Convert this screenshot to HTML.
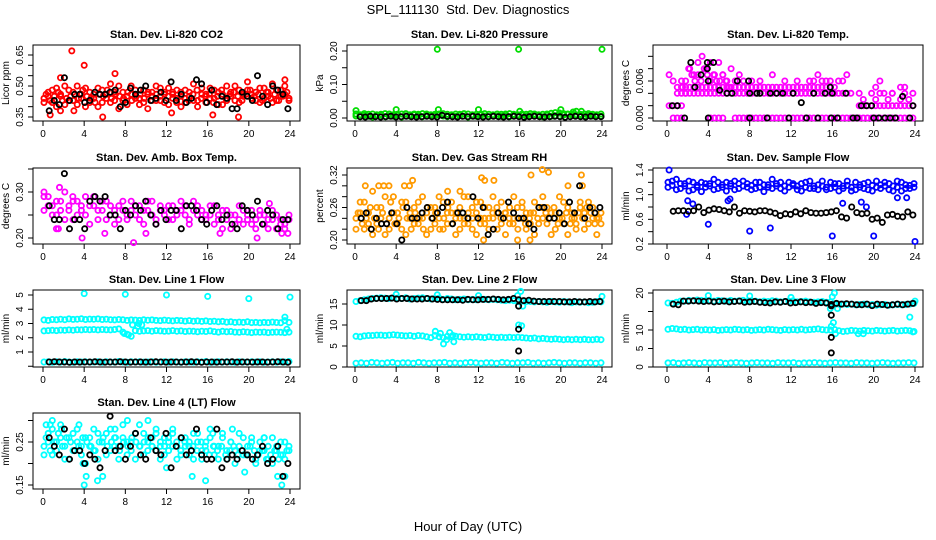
<!DOCTYPE html>
<html><head><meta charset="utf-8">
<style>
html,body{margin:0;padding:0;background:#fff;}
svg{display:block;font-family:"Liberation Sans",Arial,sans-serif;}
</style></head>
<body>
<svg id="c" width="936" height="540" viewBox="0 0 936 540">
<text x="468" y="14" text-anchor="middle" font-size="13">SPL_111130&#160; Std. Dev. Diagnostics</text>
<text x="468" y="531" text-anchor="middle" font-size="13">Hour of Day (UTC)</text>
</svg>
<script>
// ---------- data ----------
const xTicks=[0,4,8,12,16,20,24];
const N=null;
const co2A=[0.44,0.47,0.42,0.49,0.45,0.41,0.48,0.43,0.50,0.46,0.40,0.47,0.44,0.49,0.42,0.46,0.51,0.43,0.39,0.47,0.45,0.50,0.44,0.41,0.48,0.46,0.43,0.50,0.45,0.42,0.49,0.47,0.44,0.40,0.48,0.45,0.51,0.43,0.46,0.42,0.49,0.44,0.47,0.41,0.50,0.45,0.43,0.48,0.46,0.52,0.44,0.47,0.42,0.49,0.45,0.51,0.43,0.48,0.46,0.44];
const co2B=[0.42,0.45,0.48,0.40,0.46,0.50,0.43,0.47,0.41,0.44,0.49,0.42,0.46,0.40,0.48,0.44,0.42,0.47,0.50,0.43,0.41,0.46,0.48,0.44,0.42,0.39,0.47,0.43,0.49,0.46,0.41,0.44,0.48,0.45,0.42,0.47,0.43,0.40,0.49,0.46,0.44,0.48,0.41,0.46,0.43,0.47,0.50,0.42,0.45,0.48,0.46,0.43,0.49,0.44,0.47,0.42,0.48,0.45,0.50,0.43];
const co2C=[0.46,0.43,0.45,0.47,0.43,0.44,0.45,0.46,0.44,0.48,0.45,0.44,0.42,0.46,0.45,0.48,0.44,0.46,0.45,0.44,0.47,0.43,0.45,0.46,0.44,0.47,0.45,0.46,0.43,0.47,0.45,0.46,0.42,0.47,0.44,0.43,0.46,0.48,0.44,0.45,0.46,0.42,0.45,0.48,0.44,0.46,0.47,0.45,0.43,0.46,0.48,0.45,0.46,0.43,0.47,0.44,0.46,0.43,0.45,0.47];
const co2OutX=[2.8,4,1.7,7,5.8,0.7,19,16.5,12.5,23.5,1.7,3.0];
const co2OutY=[0.67,0.60,0.54,0.56,0.35,0.36,0.35,0.36,0.37,0.53,0.38,0.38];
const co2K=[0.38,0.43,0.41,0.54,0.43,0.46,0.46,0.42,0.43,0.47,0.46,0.46,0.47,0.48,0.40,0.42,0.49,0.46,0.48,0.50,0.43,0.44,0.47,0.43,0.52,0.43,0.46,0.42,0.44,0.53,0.51,0.42,0.48,0.41,0.45,0.44,0.39,0.39,0.47,0.45,0.43,0.55,0.45,0.41,0.50,0.48,0.46,0.39];

const prA=[0.006,0.004,0.008,0.005,0.003,0.007,0.009,0.004,0.006,0.005,0.008,0.003,0.007,0.005,0.010,0.006,0.004,0.008,0.005,0.007,0.009,0.006,0.004,0.007,0.005,0.008,0.006,0.003,0.007,0.005,0.009,0.006,0.004,0.008,0.006,0.005,0.007,0.004,0.008,0.006,0.010,0.005,0.007,0.009,0.006,0.004,0.008,0.005,0.007,0.006,0.009,0.012,0.008,0.006,0.007,0.005,0.008,0.006,0.007,0.005];
const prB=[0.012,0.010,0.013,0.011,0.012,0.010,0.011,0.013,0.012,0.010,0.011,0.012,0.013,0.010,0.012,0.011,0.013,0.012,0.010,0.011,0.012,0.013,0.011,0.010,0.012,0.011,0.013,0.012,0.010,0.011,0.012,0.013,0.011,0.010,0.012,0.011,0.012,0.013,0.011,0.010,0.012,0.011,0.013,0.012,0.010,0.011,0.012,0.014,0.016,0.015,0.013,0.011,0.012,0.010,0.011,0.012,0.013,0.011,0.010,0.012];
const prOutX=[0.1,4,8.1,8,12,16,15.9,20,21.5,22,24,21.2];
const prOutY=[0.022,0.025,0.025,0.205,0.025,0.02,0.205,0.025,0.02,0.02,0.205,0.018];
const prK=[0.004,0.003,0.005,0.004,0.003,0.004,0.005,0.003,0.004,0.005,0.004,0.003,0.004,0.005,0.004,0.003,0.008,0.005,0.004,0.003,0.005,0.004,0.005,0.004,0.003,0.004,0.005,0.004,0.003,0.004,0.005,0.004,0.002,0.004,0.005,0.004,0.003,0.004,0.005,0.004,0.002,0.004,0.005,0.004,0.003,0.005,0.004,0.004];

const tZero=[N,0,0,0,N,N,N,N,N,N,0,0,0,0,N,N,0,0,0,0,0,0,0,0,0,0,0,0,0,0,0,0,0,0,0,0,0,0,0,0,0,0,0,0,0,0,0,0,0,0,0,0,0,0,0,0,0,0,0,0];
const tTwo=[0.002,0.002,0.002,0.002,N,N,N,N,N,N,N,N,N,N,N,N,N,N,N,N,N,N,N,N,N,N,N,N,N,N,N,N,N,N,N,N,N,N,N,N,N,N,N,N,N,N,0.002,0.002,0.002,0.002,0.002,0.002,0.002,0.002,0.002,0.002,0.002,0.002,0.002,0.002];
const tFour=[N,N,0.004,0.004,0.004,0.004,0.004,0.004,0.004,0.004,0.004,0.004,0.004,0.004,0.004,0.004,0.004,0.004,0.004,0.004,0.004,0.004,0.004,0.004,0.004,0.004,0.004,0.004,0.004,0.004,0.004,0.004,0.004,0.004,0.004,0.004,0.004,0.004,0.004,0.004,0.004,0.004,0.004,0.004,0.004,N,0.004,0.003,N,0.004,0.003,0.004,N,0.003,0.004,N,0.003,0.004,0.003,N];
const tFive=[N,N,N,0.005,0.005,0.005,0.005,0.005,0.005,0.005,0.005,0.005,0.005,0.005,0.005,0.005,0.005,0.005,0.005,0.005,0.005,0.005,0.005,0.005,0.005,0.005,0.005,0.005,0.005,0.005,0.005,0.005,0.005,0.005,0.005,0.005,0.005,0.005,0.005,0.005,0.005,N,N,N,N,N,N,N,N,N,N,N,N,N,N,N,N,N,N,N];
const tHigh=[0.007,0.006,0.005,0.006,0.004,0.008,0.007,0.009,0.010,0.008,0.009,0.007,0.009,0.007,0.006,0.008,0.006,0.007,0.006,N,0.006,N,0.006,N,N,0.007,N,N,0.006,N,N,0.006,N,N,0.006,0.006,0.007,0.006,0.006,0.006,N,0.006,0.006,0.007,N,N,N,N,N,N,0.005,0.006,0.004,N,0.004,N,0.005,0.005,N,0.004];
const tHigh2=[0.005,0.006,0.008,0.007,0.006,0.007,0.006,0.008,0.007,0.006,0.007,0.006,0.006,0.007,0.006,0.005];
const tKX=[0.5,1.0,1.7,2.3,2.7,3.3,3.9,3.9,4.0,4.0,4.5,5.1,5.8,6.3,6.8,7.9,8.0,8.0,8.7,9.0,9.7,10.0,10.6,11.2,11.8,12.2,13.0,13.5,14.2,14.6,15.3,15.8,15.9,16.0,16.5,17.3,18.0,18.4,18.8,19.3,19.8,20.0,20.5,21.1,21.6,22.1,22.8,23.5,23.8];
const tKY=[0.002,0.002,0,0.009,0.005,0.007,0.009,0.008,0.006,0,0.009,0.0045,0.004,0.004,0.006,0.006,0.004,0,0.004,0.004,0,0.004,0.004,0.004,0,0.004,0.0025,0,0.004,0,0.004,0.005,0,0.004,0,0.004,0,0,0.002,0.002,0.002,0,0,0,0,0,0.0035,0,0.002];

const ambA=[0.29,0.27,0.25,0.28,0.26,0.30,0.27,0.24,0.28,0.26,0.25,0.27,0.29,0.24,0.26,0.28,0.25,0.23,0.27,0.26,0.24,0.28,0.25,0.27,0.23,0.26,0.28,0.24,0.26,0.25,0.27,0.24,0.26,0.28,0.25,0.23,0.26,0.27,0.24,0.25,0.27,0.23,0.25,0.26,0.24,0.22,0.25,0.27,0.23,0.24,0.26,0.22,0.25,0.23,0.24,0.26,0.22,0.24,0.23,0.25];
const ambB=[0.26,0.29,0.27,0.25,0.28,0.24,0.26,0.28,0.25,0.27,0.29,0.23,0.27,0.26,0.28,0.24,0.27,0.26,0.24,0.28,0.25,0.26,0.27,0.24,0.26,0.28,0.25,0.23,0.27,0.26,0.24,0.27,0.25,0.26,0.27,0.24,0.28,0.25,0.26,0.24,0.25,0.27,0.24,0.22,0.26,0.25,0.23,0.24,0.26,0.25,0.23,0.24,0.26,0.25,0.22,0.24,0.25,0.23,0.22,0.24];
const ambOutX=[1.6,2.9,5,3.8,8.8,6,10,1.3,20.8,22,23.2,23.8,17.2,0.1,1.5];
const ambOutY=[0.31,0.29,0.29,0.20,0.19,0.21,0.21,0.22,0.20,0.275,0.21,0.21,0.21,0.30,0.22];
const ambK=[0.27,0.24,0.24,0.34,0.22,0.24,0.24,0.22,0.28,0.29,0.28,0.29,0.25,0.25,0.22,0.26,0.25,0.27,0.26,0.28,0.25,0.23,0.26,0.24,0.26,0.26,0.22,0.27,0.27,0.26,0.24,0.23,0.26,0.27,0.24,0.25,0.23,0.22,0.27,0.26,0.25,0.28,0.23,0.26,0.25,0.22,0.24,0.24];

const rhA=[0.24,0.27,0.22,0.25,0.29,0.23,0.26,0.21,0.24,0.28,0.25,0.22,0.27,0.24,0.26,0.23,0.28,0.25,0.22,0.26,0.24,0.27,0.23,0.25,0.21,0.26,0.24,0.28,0.22,0.25,0.27,0.23,0.26,0.24,0.22,0.27,0.25,0.23,0.28,0.24,0.26,0.22,0.25,0.27,0.23,0.24,0.26,0.21,0.25,0.28,0.23,0.26,0.24,0.22,0.27,0.25,0.23,0.26,0.24,0.25];
const rhB=[0.22,0.25,0.27,0.23,0.21,0.26,0.24,0.28,0.22,0.25,0.23,0.27,0.21,0.25,0.23,0.27,0.24,0.21,0.26,0.23,0.28,0.22,0.25,0.27,0.24,0.22,0.28,0.23,0.26,0.21,0.24,0.26,0.22,0.28,0.25,0.23,0.21,0.26,0.24,0.22,0.27,0.25,0.23,0.21,0.26,0.28,0.23,0.25,0.22,0.24,0.27,0.21,0.25,0.23,0.26,0.22,0.27,0.24,0.21,0.23];
const rhC=[0.25,0.23,0.24,0.26,0.24,0.22,0.25,0.23,0.27,0.23,0.24,0.26,0.24,0.22,0.25,0.24,0.22,0.26,0.24,0.25,0.22,0.24,0.26,0.23,0.25,0.24,0.23,0.25,0.24,0.27,0.23,0.24,0.24,0.25,0.26,0.24,0.25,0.24,0.23,0.26,0.24,0.23,0.24,0.25,0.24,0.26,0.25,0.24,0.26,0.23,0.24,0.25,0.23,0.24,0.25,0.24,0.26,0.25,0.23,0.24];
const rhOutX=[1,2.3,2.8,3.3,4.8,5.3,5.6,9,10.2,12.3,12.6,13.5,17.1,18.2,18.8,22,22.1,20.7,12.5,15.8,17,1.6];
const rhOutY=[0.30,0.30,0.30,0.30,0.30,0.30,0.31,0.29,0.29,0.315,0.31,0.31,0.32,0.33,0.325,0.32,0.30,0.30,0.20,0.20,0.20,0.22];
const rhK=[0.24,0.25,0.22,0.24,0.23,0.23,0.25,0.23,0.20,0.26,0.24,0.24,0.25,0.26,0.24,0.25,0.26,0.27,0.23,0.25,0.25,0.24,0.28,0.24,0.26,0.21,0.22,0.25,0.24,0.27,0.25,0.24,0.24,0.23,0.22,0.26,0.26,0.24,0.24,0.25,0.23,0.27,0.25,0.30,0.24,0.26,0.25,0.26];

const flA=[1.20,1.15,1.25,1.10,1.18,1.22,1.08,1.15,1.20,1.12,1.18,1.25,1.10,1.16,1.20,1.14,1.08,1.18,1.22,1.12,1.15,1.10,1.20,1.16,1.12,1.25,1.18,1.10,1.14,1.20,1.15,1.08,1.18,1.12,1.22,1.10,1.16,1.14,1.08,1.20,1.12,1.18,1.10,1.15,1.06,1.20,1.12,1.18,1.08,1.15,1.22,1.10,1.14,1.18,1.06,1.12,1.20,1.10,1.15,1.12];
const flB=[1.12,1.22,1.08,1.18,1.14,1.06,1.20,1.12,1.05,1.18,1.14,1.08,1.20,1.12,1.06,1.18,1.22,1.10,1.14,1.18,1.08,1.20,1.12,1.05,1.16,1.10,1.14,1.20,1.06,1.12,1.18,1.14,1.06,1.20,1.10,1.14,1.08,1.22,1.12,1.10,1.18,1.06,1.14,1.22,1.12,1.08,1.16,1.10,1.20,1.06,1.12,1.16,1.20,1.08,1.14,1.22,1.06,1.16,1.10,1.18];
const flOutX=[0.2,1.9,4,8,10,16,20,24,2,5.9,17,18.8,19.3,22.3,23.2,2.5,6.1];
const flOutY=[1.4,0.68,0.52,0.41,0.46,0.33,0.33,0.24,0.9,0.9,0.86,0.88,0.8,0.95,0.95,0.85,0.93];
const flK=[0.73,0.74,0.74,0.73,0.74,0.80,0.71,0.75,0.77,0.76,0.74,0.72,0.80,0.70,0.74,0.73,0.72,0.74,0.74,0.72,0.70,0.66,0.69,0.68,0.72,0.69,0.74,0.71,0.70,0.70,0.71,0.72,0.74,0.64,0.62,0.80,0.71,0.69,0.70,0.60,0.62,0.55,0.67,0.68,0.65,0.64,0.72,0.67];

const l1A=[3.25,3.22,3.28,3.26,3.30,3.27,3.32,3.29,3.30,3.33,3.28,3.31,3.30,3.32,3.28,3.30,3.27,3.25,3.28,3.26,3.22,3.25,3.24,3.22,3.26,3.23,3.25,3.22,3.20,3.24,3.21,3.18,3.22,3.20,3.17,3.20,3.16,3.18,3.15,3.18,3.14,3.16,3.12,3.15,3.10,3.12,3.08,3.10,3.08,3.12,3.06,3.08,3.05,3.08,3.06,3.10,3.07,3.05,3.20,3.08];
const l1B=[2.48,2.50,2.52,2.50,2.54,2.52,2.55,2.53,2.56,2.55,2.58,2.56,2.58,2.55,2.58,2.56,2.55,2.58,2.62,2.40,2.25,2.10,2.50,2.45,2.48,2.50,2.46,2.50,2.48,2.45,2.47,2.50,2.46,2.48,2.44,2.47,2.45,2.42,2.46,2.44,2.48,2.43,2.40,2.45,2.42,2.44,2.40,2.38,2.42,2.40,2.36,2.40,2.38,2.40,2.36,2.38,2.40,2.38,2.36,2.40];
const l1C=[0.30,0.32,0.28,0.31,0.29,0.33,0.30,0.28,0.32,0.30,0.31,0.29,0.30,0.32,0.28,0.31,0.30,0.29,0.33,0.30,0.28,0.31,0.30,0.32,0.29,0.30,0.31,0.28,0.30,0.32,0.29,0.31,0.30,0.28,0.32,0.30,0.29,0.31,0.30,0.33,0.28,0.30,0.31,0.29,0.32,0.30,0.28,0.31,0.30,0.29,0.32,0.30,0.31,0.28,0.30,0.32,0.29,0.31,0.30,0.33];
const l1OutX=[4,8,12,16,20,24,8.7,9.2,9.6,9.3,23.5,23.7,7.9,8.3];
const l1OutY=[5.1,5.05,5.0,4.9,4.75,4.85,2.9,2.8,2.9,3.0,3.45,2.6,2.3,2.2];
const l1K=[0.30,0.32,0.30,0.30,0.28,0.30,0.29,0.30,0.30,0.31,0.30,0.29,0.30,0.30,0.31,0.30,0.29,0.30,0.30,0.29,0.30,0.31,0.30,0.29,0.30,0.30,0.29,0.30,0.31,0.30,0.28,0.30,0.30,0.29,0.30,0.30,0.31,0.29,0.30,0.30,0.29,0.30,0.30,0.29,0.30,0.31,0.30,0.28];

const l2A=[15.6,15.8,16.0,16.2,16.3,16.4,16.5,16.4,16.3,16.5,16.4,16.3,16.5,16.2,16.3,16.4,16.5,16.3,16.2,16.3,16.4,16.1,16.3,16.2,16.0,16.1,16.2,16.0,16.1,16.0,16.2,16.1,16.0,16.1,16.0,15.9,15.8,15.9,15.8,15.6,15.7,15.6,15.6,15.5,15.6,15.5,15.4,15.6,15.5,15.4,15.6,15.5,15.3,15.5,15.4,15.5,15.3,15.4,15.6,15.5];
const l2B=[7.3,7.2,7.4,7.5,7.5,7.6,7.6,7.5,7.6,7.7,7.6,7.5,7.4,7.5,7.3,7.5,7.4,7.2,7.0,7.5,7.2,7.0,7.3,7.2,7.3,7.2,7.1,7.2,7.1,7.2,7.1,7.0,7.2,7.1,7.0,7.1,7.0,7.1,7.0,7.1,7.0,6.9,6.8,6.9,6.7,6.8,6.7,6.6,6.7,6.6,6.5,6.6,6.5,6.6,6.5,6.6,6.5,6.5,6.6,6.5];
const l2C=[0.9,1.0,0.9,1.1,1.0,0.9,1.0,1.1,0.9,1.0,1.0,0.9,1.1,1.0,0.9,1.0,1.0,1.1,0.9,1.0,0.9,1.0,1.1,1.0,0.9,1.0,1.0,0.9,1.1,1.0,0.9,1.0,1.0,1.1,0.9,1.0,0.9,1.0,1.1,1.0,0.9,1.0,1.0,0.9,1.0,1.0,0.9,1.0];
const l2OutX=[4,8,12,16.1,16.3,15.8,24,16.2,15.9,7.8,8.3,8.6,9.2,9.6,8.9,9.5];
const l2OutY=[17.3,17.2,17.0,18.0,14.5,17.0,16.8,9.8,10,8.5,8.0,5.5,8.2,6.0,6.5,7.5];
const l2K=[15.8,15.8,16.2,16.3,16.3,16.3,16.4,16.2,16.3,16.3,16.2,16.2,16.2,16.3,16.2,16.1,16.0,16.0,16.0,16.0,15.9,16.1,16.0,16.0,16.1,16.1,16.2,16.1,16.0,16.1,16.3,16.0,15.8,15.9,15.7,15.6,15.6,15.6,15.6,15.6,15.5,15.5,15.6,15.5,15.5,15.6,15.5,15.6];
const l2KOutX=[15.9,15.9,15.9];
const l2KOutY=[9.0,3.8,14.5];

const l3A=[17.3,17.2,17.5,17.8,17.8,18.0,17.9,18.1,18.0,17.9,18.0,17.8,18.0,17.9,17.8,18.0,17.8,17.9,18.0,17.7,17.9,17.8,17.6,17.8,17.7,17.9,17.8,17.6,17.7,17.8,17.9,17.6,17.7,17.8,17.6,17.5,17.6,17.7,17.5,17.6,16.9,17.0,17.0,16.9,17.0,16.8,16.9,17.0,16.8,16.9,16.7,16.8,16.9,16.7,16.8,16.9,16.8,16.9,17.0,17.2];
const l3B=[10.2,10.4,10.3,10.1,10.2,10.0,10.1,10.2,10.0,10.1,10.0,10.1,9.9,10.0,10.1,10.0,10.2,10.1,10.0,10.1,9.9,10.0,10.1,10.0,10.2,10.1,10.0,9.9,10.1,10.0,10.1,10.0,10.2,10.0,10.1,10.2,10.3,10.1,10.0,10.0,10.1,9.8,9.6,9.7,9.9,9.8,9.7,9.9,9.8,9.7,9.9,9.8,9.7,9.8,9.9,9.7,9.8,9.9,9.8,9.6];
const l3C=[1.1,1.2,1.0,1.1,1.2,1.1,1.0,1.2,1.1,1.1,1.2,1.0,1.1,1.2,1.1,1.0,1.1,1.2,1.1,1.1,1.0,1.2,1.1,1.1,1.2,1.0,1.1,1.1,1.2,1.1,1.0,1.1,1.2,1.1,1.1,1.0,1.2,1.1,1.1,1.0,1.1,1.2,1.1,1.0,1.1,1.1,1.2,1.1];
const l3OutX=[4,8,12,16.2,16.5,15.8,16,16.1,15.9,16.3,18.5,19,24,23.5,23.8];
const l3OutY=[19.3,19.2,18.8,20,15.8,15.8,19,12,11,9,9,9,17.8,13.5,9.5];
const l3K=[17.0,16.8,17.8,17.8,17.9,17.8,17.7,17.8,17.6,17.7,17.8,17.6,17.7,17.8,17.5,17.6,17.7,17.5,17.4,17.3,17.6,17.5,17.7,17.3,17.4,17.6,17.4,17.5,17.2,17.4,17.3,16.9,17.2,17.0,17.1,17.0,16.8,16.8,17.0,16.6,17.0,16.9,16.7,16.8,17.0,16.8,17.0,17.2];
const l3KOutX=[15.9,15.9,15.9,15.9];
const l3KOutY=[8,3.8,14,16.5];

const l4A=[0.24,0.27,0.22,0.25,0.29,0.21,0.26,0.23,0.28,0.24,0.20,0.26,0.23,0.27,0.25,0.22,0.28,0.24,0.21,0.26,0.25,0.23,0.27,0.29,0.22,0.25,0.24,0.27,0.21,0.26,0.23,0.28,0.24,0.22,0.26,0.25,0.21,0.27,0.23,0.25,0.28,0.22,0.24,0.26,0.21,0.25,0.23,0.27,0.22,0.24,0.26,0.20,0.25,0.23,0.21,0.26,0.24,0.22,0.25,0.23];
const l4B=[0.22,0.25,0.28,0.23,0.26,0.24,0.21,0.27,0.25,0.22,0.26,0.24,0.28,0.21,0.25,0.27,0.23,0.26,0.24,0.29,0.22,0.25,0.21,0.24,0.27,0.23,0.26,0.28,0.24,0.22,0.25,0.27,0.21,0.26,0.24,0.22,0.27,0.25,0.21,0.23,0.26,0.24,0.21,0.27,0.23,0.25,0.20,0.24,0.26,0.22,0.25,0.21,0.23,0.26,0.24,0.20,0.23,0.25,0.21,0.24];
const l4C=[0.26,0.23,0.25,0.27,0.24,0.26,0.25,0.23,0.24,0.26,0.25,0.24,0.23,0.25,0.26,0.24,0.25,0.26,0.23,0.25,0.24,0.26,0.25,0.24,0.25,0.26,0.24,0.23,0.25,0.24,0.26,0.24,0.25,0.23,0.25,0.24,0.24,0.23,0.25,0.24,0.22,0.24,0.23,0.24,0.22,0.23,0.24,0.22,0.23,0.22,0.24,0.23,0.22,0.23,0.21,0.22,0.23,0.21,0.22,0.23];
const l4OutX=[0.3,0.7,0.9,1.8,3.5,4,4.2,5.3,5.8,7,8.2,10.2,14.5,15.8,16.5,18.4,19.6,21.5,22.8,23.2,23.5,3.9,12];
const l4OutY=[0.29,0.29,0.30,0.28,0.29,0.15,0.17,0.16,0.17,0.28,0.30,0.30,0.17,0.16,0.27,0.28,0.18,0.26,0.17,0.15,0.17,0.20,0.19];
const l4K=[0.26,0.24,0.22,0.28,0.21,0.23,0.23,0.20,0.22,0.21,0.19,0.23,0.31,0.23,0.24,0.21,0.24,0.27,0.22,0.21,0.26,0.23,0.22,0.27,0.19,0.24,0.26,0.22,0.23,0.28,0.22,0.21,0.21,0.28,0.19,0.21,0.22,0.21,0.23,0.22,0.21,0.22,0.24,0.20,0.21,0.24,0.17,0.20];

// ---------- drawing ----------
const svg=document.getElementById('c');
const NS='http://www.w3.org/2000/svg';
function mk(tag,attrs,parent){const e=document.createElementNS(NS,tag);for(const k in attrs)e.setAttribute(k,attrs[k]);(parent||svg).appendChild(e);return e;}

const cols=[{L:33,R:300,x0:43,x24:290},{L:347,R:612,x0:355,x24:602},{L:653,R:923,x0:667,x24:915}];
const rows=[{T:45,B:121},{T:168,B:244},{T:290,B:367},{T:413,B:489}];

function makePanel(name,title,ylab,c,r,v1,p1,v2,p2,yt,ytl){
  const col=cols[c],row=rows[r];
  const g=mk('g',{});
  
  
  const sx=h=>col.x0+(h/24)*(col.x24-col.x0);
  const sy=v=>p1+(v-v1)*(p2-p1)/(v2-v1);
  const t=mk('text',{x:(col.L+col.R)/2,y:row.T-7,'text-anchor':'middle','font-size':'11','font-weight':'bold'},g);
  t.textContent=title;
  
  
  const box=mk('rect',{x:col.L,y:row.T,width:col.R-col.L,height:row.B-row.T,fill:'none',stroke:'#000','stroke-width':1},g);
  
  
  mk('line',{x1:sx(xTicks[0]),x2:sx(xTicks[xTicks.length-1]),y1:row.B,y2:row.B,stroke:'#000'},g);
  xTicks.forEach(h=>{
    mk('line',{x1:sx(h),x2:sx(h),y1:row.B,y2:row.B+5,stroke:'#000'},g);
    const tl=mk('text',{x:sx(h),y:row.B+16,'text-anchor':'middle','font-size':'10'},g);
    tl.textContent=String(h);
    
    
  });
  yt.forEach((v,i)=>{
    const y=sy(v);
    mk('line',{x1:col.L,x2:col.L-5,y1:y,y2:y,stroke:'#000'},g);
    if(ytl[i]){
      const tl=mk('text',{x:col.L-10,y:y,'text-anchor':'middle','font-size':'10',transform:`rotate(-90 ${col.L-10} ${y})`},g);
      tl.textContent=ytl[i];
      
      
    }
  });
  const yl=mk('text',{x:col.L-24,y:(row.T+row.B)/2,'text-anchor':'middle','font-size':'10',transform:`rotate(-90 ${col.L-24} ${(row.T+row.B)/2})`},g);
  yl.textContent=ylab;
  
  
  return {g,sx,sy};
}
function pt(p,x,y,color,name){
  const e=mk('circle',{cx:p.sx(x).toFixed(1),cy:p.sy(y).toFixed(1),r:2.6,fill:'none',stroke:color,'stroke-width':1.8},p.g);
  
  
}
function series(p,vals,color,name,a,b){
  const x0=(a===undefined)?0.1:a, x1=(b===undefined)?23.9:b;
  vals.forEach((v,i)=>{ if(v===null)return; pt(p,x0+(x1-x0)*i/(vals.length-1),v,color,name); });
}
function seriesXY(p,xs,ys,color,name){
  const n=Math.min(xs.length,ys.length);
  for(let i=0;i<n;i++)pt(p,xs[i],ys[i],color,name);
}
const RED='#ff0000',GRN='#00dd00',MAG='#ff00ff',ORG='#ff9a00',BLU='#0000ff',CYN='#00ffff',BLK='#000';

let p=makePanel('panel-co2','Stan. Dev. Li-820 CO2','Licor ppm',0,0,0.35,117,0.65,55,[0.35,0.40,0.45,0.50,0.55,0.60,0.65],['0.35','','','0.50','','','0.65']);
series(p,co2A,RED,'co2-point');series(p,co2B,RED,'co2-point');series(p,co2C,RED,'co2-point',0.3,23.7);seriesXY(p,co2OutX,co2OutY,RED,'co2-point');
series(p,co2K,BLK,'co2-hourly-point',0.6,23.8);

p=makePanel('panel-pressure','Stan. Dev. Li-820 Pressure','kPa',1,0,0,118,0.20,51,[0,0.05,0.10,0.15,0.20],['0.00','','0.10','','0.20']);
series(p,prA,GRN,'pressure-point');series(p,prB,GRN,'pressure-point');seriesXY(p,prOutX,prOutY,GRN,'pressure-point');
series(p,prK,BLK,'pressure-hourly-point',0.5,23.9);

p=makePanel('panel-li820-temp','Stan. Dev. Li-820 Temp.','degrees C',2,0,0,118,0.006,81,[0,0.002,0.004,0.006,0.008,0.010],['0.000','','','0.006','','']);
series(p,tZero,MAG,'temp-point',0.2,23.8);series(p,tTwo,MAG,'temp-point',0.2,23.8);series(p,tFour,MAG,'temp-point',0.2,23.8);series(p,tFive,MAG,'temp-point',0.2,23.8);series(p,tHigh,MAG,'temp-point',0.2,23.8);series(p,tHigh2,MAG,'temp-point',1.5,6.0);
seriesXY(p,tKX,tKY,BLK,'temp-hourly-point');

p=makePanel('panel-amb-box-temp','Stan. Dev. Amb. Box Temp.','degrees C',0,1,0.20,238,0.30,192,[0.20,0.25,0.30,0.35],['0.20','','0.30','']);
series(p,ambA,MAG,'amb-temp-point');series(p,ambB,MAG,'amb-temp-point');seriesXY(p,ambOutX,ambOutY,MAG,'amb-temp-point');
series(p,ambK,BLK,'amb-temp-hourly-point',0.6,23.8);

p=makePanel('panel-gas-stream-rh','Stan. Dev. Gas Stream RH','percent',1,1,0.20,240,0.32,175,[0.20,0.22,0.24,0.26,0.28,0.30,0.32],['0.20','','','0.26','','','0.32']);
series(p,rhA,ORG,'rh-point');series(p,rhB,ORG,'rh-point');series(p,rhC,ORG,'rh-point',0.3,23.7);seriesXY(p,rhOutX,rhOutY,ORG,'rh-point');
series(p,rhK,BLK,'rh-hourly-point',0.6,23.8);

p=makePanel('panel-sample-flow','Stan. Dev. Sample Flow','ml/min',2,1,0.2,244,1.4,170,[0.2,0.4,0.6,0.8,1.0,1.2,1.4],['0.2','','0.6','','1.0','','1.4']);
series(p,flA,BLU,'sample-flow-point');series(p,flB,BLU,'sample-flow-point');seriesXY(p,flOutX,flOutY,BLU,'sample-flow-point');
series(p,flK,BLK,'sample-flow-hourly-point',0.6,23.8);

p=makePanel('panel-line1-flow','Stan. Dev. Line 1 Flow','ml/min',0,2,1,352,5,295,[0,1,2,3,4,5],['','1','2','3','4','5']);
series(p,l1A,CYN,'line1-point');series(p,l1B,CYN,'line1-point');series(p,l1C,CYN,'line1-point');seriesXY(p,l1OutX,l1OutY,CYN,'line1-point');
series(p,l1K,BLK,'line1-hourly-point',0.6,23.8);

p=makePanel('panel-line2-flow','Stan. Dev. Line 2 Flow','ml/min',1,2,0,367,15,304,[0,5,10,15],['0','5','10','15']);
series(p,l2A,CYN,'line2-point');series(p,l2B,CYN,'line2-point');series(p,l2C,CYN,'line2-point');seriesXY(p,l2OutX,l2OutY,CYN,'line2-point');
series(p,l2K,BLK,'line2-hourly-point',0.6,23.8);seriesXY(p,l2KOutX,l2KOutY,BLK,'line2-hourly-point');

p=makePanel('panel-line3-flow','Stan. Dev. Line 3 Flow','ml/min',2,2,0,367,20,293,[0,5,10,15,20],['0','5','10','','20']);
series(p,l3A,CYN,'line3-point');series(p,l3B,CYN,'line3-point');series(p,l3C,CYN,'line3-point');seriesXY(p,l3OutX,l3OutY,CYN,'line3-point');
series(p,l3K,BLK,'line3-hourly-point',0.6,23.8);seriesXY(p,l3KOutX,l3KOutY,BLK,'line3-hourly-point');

p=makePanel('panel-line4-flow','Stan. Dev. Line 4 (LT) Flow','ml/min',0,3,0.15,485,0.25,442,[0.15,0.20,0.25,0.30],['0.15','','0.25','']);
series(p,l4A,CYN,'line4-point');series(p,l4B,CYN,'line4-point');series(p,l4C,CYN,'line4-point',0.3,23.7);seriesXY(p,l4OutX,l4OutY,CYN,'line4-point');
series(p,l4K,BLK,'line4-hourly-point',0.6,23.8);
</script>
</body></html>
